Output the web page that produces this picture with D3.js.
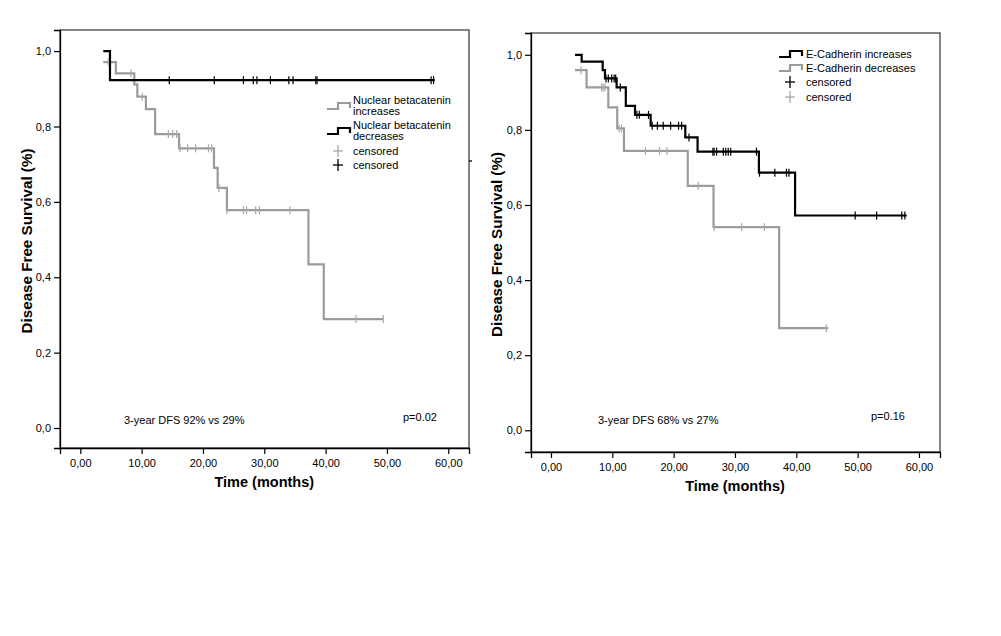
<!DOCTYPE html>
<html>
<head>
<meta charset="utf-8">
<script src="https://cdn.jsdelivr.net/npm/d3@7/dist/d3.min.js"></script>
<style>
  html, body { margin: 0; padding: 0; background: #fff; }
  svg { display: block; font-family: "Liberation Sans", Arial, sans-serif; }
</style>
</head>
<body>
<svg id="chart" width="1001" height="636"></svg>
<script>
// ---------- data ----------
const xTicks = [0, 10, 20, 30, 40, 50, 60];
const xTickLabels = ["0,00", "10,00", "20,00", "30,00", "40,00", "50,00", "60,00"];
const yTicks = [0, 0.2, 0.4, 0.6, 0.8, 1.0];
const yTickLabels = ["0,0", "0,2", "0,4", "0,6", "0,8", "1,0"];

// Left panel: Nuclear betacatenin
const betaIncTimes = [3.75, 5.8, 8.8, 9.3, 10.7, 12.2, 16.1, 21.8, 22.4, 23.9, 37.2, 39.7, 49.4];
const betaIncSurv  = [0.971, 0.941, 0.912, 0.879, 0.846, 0.780, 0.742, 0.690, 0.637, 0.578, 0.434, 0.289, 0.289];
const betaIncCensor = [4.57, 8.27, 10.1, 14.35, 15.07, 15.7, 16.26, 17.5, 18.8, 20.9, 21.4, 22.6, 23.9, 26.6, 27.1, 28.6, 29.2, 34.2, 44.95, 49.4];

const betaDecTimes = [3.75, 4.84, 57.8];
const betaDecSurv  = [1.0, 0.923, 0.923];
const betaDecCensor = [14.5, 21.85, 26.6, 28.2, 28.8, 31.0, 34.0, 34.7, 38.4, 38.6, 57.2, 57.6];

// Right panel: E-Cadherin
const ecadIncTimes = [3.91, 5.0, 8.43, 8.8, 10.7, 12.2, 13.7, 16.25, 21.9, 23.9, 33.9, 39.8, 58.0];
const ecadIncSurv  = [1.0, 0.982, 0.959, 0.937, 0.913, 0.864, 0.840, 0.811, 0.780, 0.742, 0.686, 0.572, 0.572];
const ecadIncCensor = [8.97, 9.35, 9.9, 10.3, 10.55, 11.3, 14.0, 14.4, 15.9, 16.5, 17.35, 18.3, 19.5, 20.8, 21.3, 22.5, 26.4, 26.6, 27.0, 28.1, 28.5, 28.9, 29.3, 33.5, 34.0, 36.5, 38.4, 38.8, 49.6, 53.1, 57.2, 57.7];

const ecadDecTimes = [3.91, 5.8, 9.35, 10.8, 11.9, 22.3, 26.5, 37.2, 45.2];
const ecadDecSurv  = [0.959, 0.913, 0.860, 0.804, 0.744, 0.651, 0.541, 0.272, 0.272];
const ecadDecCensor = [4.9, 8.26, 8.5, 8.8, 11.1, 11.5, 15.4, 17.7, 18.9, 24.0, 26.6, 31.1, 34.8, 44.9];

const leftLegend = ["Nuclear betacatenin\nincreases", "Nuclear betacatenin\ndecreases", "censored", "censored"];
const rightLegend = ["E-Cadherin increases", "E-Cadherin decreases", "censored", "censored"];
const leftNote = "3-year DFS 92% vs 29%";
const leftP = "p=0.02";
const rightNote = "3-year DFS 68% vs 27%";
const rightP = "p=0.16";
const xTitle = "Time (months)";
const yTitle = "Disease Free Survival (%)";

// ---------- drawing ----------
const GRAY = "#9b9b9b";
const svg = d3.select("#chart");

function stepSurv(times, surv, t) {
  let v = surv[0];
  for (let i = 0; i < times.length; i++) if (times[i] <= t) v = surv[i];
  return v;
}

function drawPanel(cfg) {
  const x = d3.scaleLinear().domain(cfg.xDomain).range([cfg.left, cfg.right]);
  const y = d3.scaleLinear().domain(cfg.yDomain).range([cfg.bottom, cfg.top]);
  const g = svg.append("g");

  // frame
  g.append("rect")
    .attr("x", cfg.left).attr("y", cfg.top)
    .attr("width", cfg.right - cfg.left).attr("height", cfg.bottom - cfg.top)
    .attr("fill", "none").attr("stroke", "#444").attr("stroke-width", 1.3);

  // axes
  const xAxis = d3.axisBottom(x).tickValues(xTicks).tickSize(6)
    .tickFormat((d, i) => xTickLabels[i]);
  const gx = g.append("g").attr("transform", `translate(0,${cfg.bottom})`).call(xAxis);
  gx.select(".domain").attr("stroke", "#000").attr("stroke-width", 1.3);
  gx.selectAll(".tick line").attr("stroke", "#000").attr("stroke-width", 1.2);
  gx.selectAll(".tick text").attr("font-size", 11).attr("fill", "#000")
    .attr("font-family", "Liberation Sans, Arial, sans-serif").attr("dy", "0.95em");

  const yAxis = d3.axisLeft(y).tickValues(yTicks).tickSize(6)
    .tickFormat((d, i) => yTickLabels[i]);
  const gy = g.append("g").attr("transform", `translate(${cfg.left},0)`).call(yAxis);
  gy.select(".domain").attr("stroke", "#000").attr("stroke-width", 1.3);
  gy.selectAll(".tick line").attr("stroke", "#000").attr("stroke-width", 1.2);
  gy.selectAll(".tick text").attr("font-size", 11).attr("fill", "#000")
    .attr("font-family", "Liberation Sans, Arial, sans-serif").attr("x", -9);

  // titles
  g.append("text").attr("x", (x(0) + x(60)) / 2).attr("y", cfg.bottom + 39)
    .attr("text-anchor", "middle").attr("font-size", 14.5).attr("font-weight", "bold")
    .text(xTitle);
  g.append("text")
    .attr("transform", `translate(${cfg.yTitleX},${(cfg.top + cfg.bottom) / 2 + 2}) rotate(-90)`)
    .attr("text-anchor", "middle").attr("font-size", 15.2).attr("font-weight", "bold")
    .text(yTitle);

  // curves
  const line = d3.line().curve(d3.curveStepAfter).x(d => x(d[0])).y(d => y(d[1]));
  cfg.series.forEach(s => {
    const pts = s.times.map((t, i) => [t, s.surv[i]]);
    g.append("path").attr("d", line(pts)).attr("fill", "none")
      .attr("stroke", s.color).attr("stroke-width", 2.2);
  });
  // censor marks
  cfg.series.forEach(s => {
    g.selectAll(null).data(s.censor).enter().append("line")
      .attr("x1", d => x(d)).attr("x2", d => x(d))
      .attr("y1", d => y(stepSurv(s.times, s.surv, d)) - 4)
      .attr("y2", d => y(stepSurv(s.times, s.surv, d)) + 4)
      .attr("stroke", s.censorColor).attr("stroke-width", 1.2);
  });

  // legend
  const L = cfg.legend;
  L.items.forEach((it, i) => {
    const cy = L.rows[i];
    if (it.kind === "line") {
      const sx = L.symX;
      const path = `M${sx},${cy + 3}H${sx + 11}V${cy - 3}H${sx + 23}V${cy + 2}`;
      g.append("path").attr("d", path).attr("fill", "none")
        .attr("stroke", it.color).attr("stroke-width", 2.2);
    } else {
      const cx = L.symX + 11;
      g.append("line").attr("x1", cx - 5).attr("x2", cx + 5).attr("y1", cy).attr("y2", cy)
        .attr("stroke", it.color).attr("stroke-width", 1.3);
      g.append("line").attr("x1", cx).attr("x2", cx).attr("y1", cy - 6).attr("y2", cy + 6)
        .attr("stroke", it.color).attr("stroke-width", 1.3);
    }
    const lines = it.label.split("\n");
    const t = g.append("text").attr("x", L.textX).attr("font-size", 11).attr("fill", "#000");
    lines.forEach((ln, j) => {
      t.append("tspan").attr("x", L.textX)
        .attr("y", (lines.length > 1 ? cy - 6 + j * 11 : cy) + 4).text(ln);
    });
  });

  // annotations
  g.append("text").attr("x", cfg.noteX).attr("y", cfg.noteY).attr("font-size", 11).text(cfg.note);
  g.append("text").attr("x", cfg.pX).attr("y", cfg.pY).attr("font-size", 11).text(cfg.p);
  return g;
}

drawPanel({
  left: 60, right: 469, top: 30, bottom: 448,
  xDomain: [-3.31, 63.38], yDomain: [-0.053, 1.056],
  yTitleX: 32,
  series: [
    { times: betaIncTimes, surv: betaIncSurv, censor: betaIncCensor, color: GRAY, censorColor: "#a8a8a8" },
    { times: betaDecTimes, surv: betaDecSurv, censor: betaDecCensor, color: "#000", censorColor: "#000" }
  ],
  legend: {
    symX: 327, textX: 353, rows: [106, 131, 151, 165],
    items: [
      { kind: "line", color: GRAY, label: leftLegend[0] },
      { kind: "line", color: "#000", label: leftLegend[1] },
      { kind: "cross", color: "#aaa", label: leftLegend[2] },
      { kind: "cross", color: "#000", label: leftLegend[3] }
    ]
  },
  note: leftNote, noteX: 124, noteY: 424,
  p: leftP, pX: 403, pY: 421
});

// small stray mark on right edge of left panel
svg.append("line").attr("x1", 469).attr("x2", 472).attr("y1", 161).attr("y2", 161)
  .attr("stroke", "#000").attr("stroke-width", 1.3);

drawPanel({
  left: 531, right: 940, top: 33, bottom: 452,
  xDomain: [-3.26, 63.43], yDomain: [-0.0578, 1.058],
  yTitleX: 502,
  series: [
    { times: ecadDecTimes, surv: ecadDecSurv, censor: ecadDecCensor, color: GRAY, censorColor: "#a8a8a8" },
    { times: ecadIncTimes, surv: ecadIncSurv, censor: ecadIncCensor, color: "#000", censorColor: "#000" }
  ],
  legend: {
    symX: 779, textX: 806, rows: [54, 68, 82, 97],
    items: [
      { kind: "line", color: "#000", label: rightLegend[0] },
      { kind: "line", color: GRAY, label: rightLegend[1] },
      { kind: "cross", color: "#000", label: rightLegend[2] },
      { kind: "cross", color: "#aaa", label: rightLegend[3] }
    ]
  },
  note: rightNote, noteX: 598, noteY: 424,
  p: rightP, pX: 871, pY: 420
});
</script>
</body>
</html>
